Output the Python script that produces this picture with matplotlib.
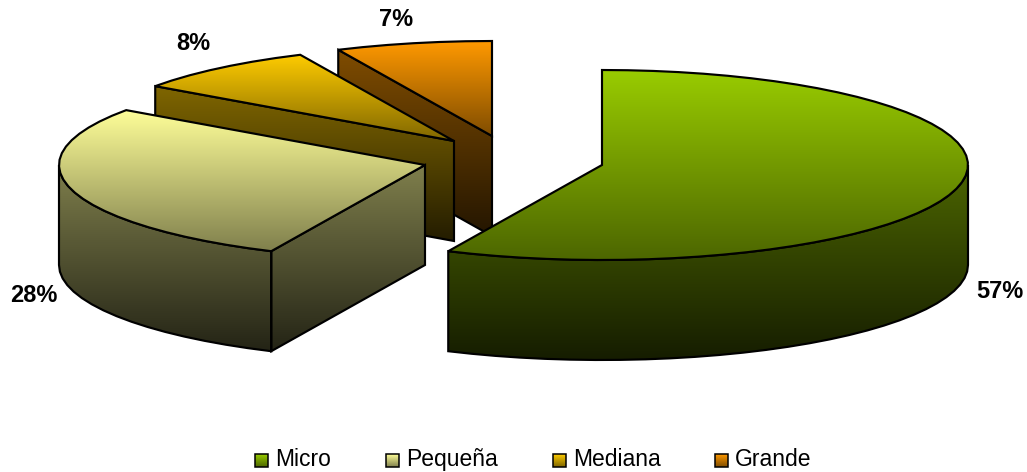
import numpy as np
import matplotlib
matplotlib.use("Agg")
import matplotlib.pyplot as plt
from matplotlib.colors import LinearSegmentedColormap, to_rgb
from matplotlib.patches import Polygon

categories = ["Micro", "Pequeña", "Mediana", "Grande"]
values = [56.9, 27.9, 8.3, 6.9]
base_colors = ["#99CC00", "#FFFF99", "#FFCC00", "#FF9900"]

plt.rcParams["font.family"] = ["Liberation Sans", "DejaVu Sans"]

W, H = 1027, 472
fig = plt.figure(figsize=(W / 100, H / 100), dpi=100)
ax = fig.add_axes([0, 0, 1, 1])
ax.set_axis_off()

RX, RY, DEPTH = 366, 95, 100
centers = [(602, 165), (425, 165), (454, 141), (492, 136)]
label_pos = [(1000, 291), (33.5, 295), (193, 43), (396, 19)]
LW = 1.55
STEP = 4.0  # rim is drawn as a slightly faceted polyline, as in the reference


def shade(color, f):
    return tuple(c * f for c in to_rgb(color))


def grad_fill(pts, c_top, c_bot, lw=LW, z=1):
    """Fill a polygon with a vertical gradient and a black outline."""
    pts = np.asarray(pts)
    cmap = LinearSegmentedColormap.from_list("g", [c_top, c_bot])
    x0, x1 = pts[:, 0].min(), pts[:, 0].max()
    y0, y1 = pts[:, 1].min(), pts[:, 1].max()
    grad = np.linspace(0, 1, 256).reshape(-1, 1)
    im = ax.imshow(grad, cmap=cmap, extent=(x0, x1, y1, y0), aspect="auto",
                   zorder=z, interpolation="bilinear", vmin=0, vmax=1)
    poly = Polygon(pts, closed=True, fc="none", ec="black", lw=lw,
                   joinstyle="miter", zorder=z + 0.1)
    ax.add_patch(poly)
    im.set_clip_path(poly)


def rim(cx, cy, t):
    t = np.radians(t)
    return np.column_stack([cx + RX * np.sin(t), cy - RY * np.cos(t)])


def arc(a0, a1):
    n = max(2, int(round((a1 - a0) / STEP)) + 1)
    return np.linspace(a0, a1, n)


starts = 360 * np.cumsum([0] + values[:-1]) / sum(values)
ends = 360 * np.cumsum(values) / sum(values)

order = [3, 2, 1, 0]  # back slices first
for rank, i in enumerate(order):
    z = 2 + rank
    cx, cy = centers[i]
    a0, a1 = starts[i], ends[i]
    col = base_colors[i]
    top_c, mid_c, bot_c = shade(col, 1.0), shade(col, 0.5), shade(col, 0.14)

    # cut face at the start edge, visible when it faces the viewer
    if np.sin(np.radians(a0)) < 0:
        p = rim(cx, cy, a0)[0]
        grad_fill([(cx, cy), tuple(p), (p[0], p[1] + DEPTH), (cx, cy + DEPTH)],
                  mid_c, bot_c, z=z)

    # outer wall: the part of the rim on the front half
    w0, w1 = max(a0, 90), min(a1, 270)
    if w1 > w0:
        r = rim(cx, cy, arc(w0, w1))
        low = r + [0, DEPTH]
        grad_fill(np.vstack([r, low[::-1]]), mid_c, bot_c, z=z)

    # top surface
    r = rim(cx, cy, arc(a0, a1))
    grad_fill(np.vstack([[(cx, cy)], r]), top_c, mid_c, z=z + 0.5)

    ax.text(*label_pos[i], f"{round(values[i])}%", fontsize=17, fontweight="bold",
            ha="center", va="center", color="black", zorder=20)

# legend
swatch_x = [255, 386, 553, 715]
for name, col, sx in zip(categories, base_colors, swatch_x):
    grad_fill([(sx, 454), (sx + 13, 454), (sx + 13, 467), (sx, 467)],
              shade(col, 1.0), shade(col, 0.5), lw=1.1, z=15)
    ax.text(sx + 20, 466, name, fontsize=16.5, ha="left", va="baseline",
            color="black", zorder=20)

ax.set_xlim(0, W)
ax.set_ylim(H, 0)
fig.savefig("out.png", dpi=100, facecolor="white")
